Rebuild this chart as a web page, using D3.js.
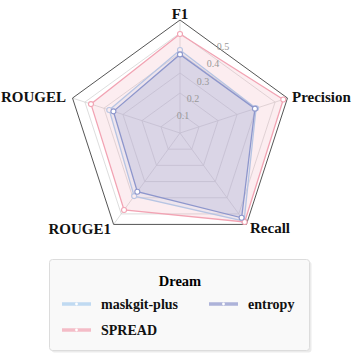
<!DOCTYPE html>
<html>
<head>
<meta charset="utf-8">
<script src="https://d3js.org/d3.v7.min.js"></script>
<style>
  body { margin: 0; background: #fff; }
</style>
</head>
<body>
<div id="chart"></div>
<script>
// axes of the radar, clockwise from top
var categories = ["F1", "Precision", "Recall", "ROUGE1", "ROUGEL"];
var maskgitPlus = [0.415, 0.40, 0.545, 0.39, 0.372];
var spread = [0.495, 0.543, 0.55, 0.476, 0.468];
var entropy = [0.393, 0.394, 0.524, 0.363, 0.35];
var ticks = [0.1, 0.2, 0.3, 0.4, 0.5];
var seriesNames = ["maskgit-plus", "SPREAD", "entropy"];
var legendTitle = "Dream";

var colors = {"maskgit-plus": "#a9cdef", "SPREAD": "#f2a3b3", "entropy": "#8d96cc"};
var series = [
  {name: "maskgit-plus", values: maskgitPlus},
  {name: "SPREAD", values: spread},
  {name: "entropy", values: entropy}
];

var width = 352, height = 356;
var cx = 180, cy = 133, R = 113;
var maxVal = 0.565;

var svg = d3.select("#chart").append("svg")
  .attr("width", width).attr("height", height)
  .attr("font-family", "Liberation Serif");

var g = svg.append("g").attr("transform", "translate(" + cx + "," + cy + ")");

var r = d3.scaleLinear().domain([0, maxVal]).range([0, R]);
var angle = d3.scaleBand().domain(categories).range([0, 2 * Math.PI]);

function pt(cat, v) {
  var a = angle(cat);
  return [r(v) * Math.sin(a), -r(v) * Math.cos(a)];
}

// rings
ticks.forEach(function(t) {
  g.append("polygon")
    .attr("points", categories.map(function(c) { return pt(c, t).join(","); }).join(" "))
    .attr("fill", "none").attr("stroke", "#d4d4d4").attr("stroke-width", 0.8);
});

// spokes
categories.forEach(function(c) {
  var p = pt(c, maxVal);
  g.append("line").attr("x1", 0).attr("y1", 0).attr("x2", p[0]).attr("y2", p[1])
    .attr("stroke", "#d4d4d4").attr("stroke-width", 0.8);
});

// outer frame
g.append("polygon")
  .attr("points", categories.map(function(c) { return pt(c, maxVal).join(","); }).join(" "))
  .attr("fill", "none").attr("stroke", "#555").attr("stroke-width", 1);

// series
var line = d3.line().curve(d3.curveLinearClosed);
series.forEach(function(s) {
  var pts = categories.map(function(c, i) { return pt(c, s.values[i]); });
  g.append("path").attr("d", line(pts))
    .attr("fill", colors[s.name]).attr("fill-opacity", 0.2)
    .attr("stroke", colors[s.name]).attr("stroke-width", 1.3);
  g.selectAll(null).data(pts).enter().append("circle")
    .attr("cx", function(d) { return d[0]; })
    .attr("cy", function(d) { return d[1]; })
    .attr("r", 2.5)
    .attr("fill", "#fff")
    .attr("stroke", colors[s.name]).attr("stroke-width", 1.1);
});

// tick labels along a 30 degree line
ticks.forEach(function(t) {
  var a = Math.PI / 6;
  g.append("text")
    .attr("x", r(t) * Math.sin(a) - 7)
    .attr("y", -r(t) * Math.cos(a))
    .attr("dy", "0.35em")
    .attr("text-anchor", "middle")
    .attr("font-size", 10)
    .attr("fill", "#999")
    .text(t);
});

// axis labels
var labelPos = {
  "F1": [0, -119, "middle"],
  "Precision": [112, -36, "start"],
  "Recall": [70, 95, "start"],
  "ROUGE1": [-69, 96, "end"],
  "ROUGEL": [-114, -36, "end"]
};
categories.forEach(function(c) {
  var p = labelPos[c];
  g.append("text")
    .attr("x", p[0]).attr("y", p[1])
    .attr("dy", "0.35em")
    .attr("text-anchor", p[2])
    .attr("font-size", 15)
    .attr("font-weight", "bold")
    .attr("fill", "#111")
    .text(c);
});

// legend
var lg = svg.append("g");
lg.append("rect")
  .attr("x", 51.5).attr("y", 261.5).attr("width", 260).attr("height", 91)
  .attr("rx", 3).attr("fill", "#ddd").attr("opacity", 0.6);
lg.append("rect")
  .attr("x", 49.5).attr("y", 259.5).attr("width", 260).attr("height", 91)
  .attr("rx", 3).attr("fill", "#f9f9f9").attr("stroke", "#dcdcdc");
lg.append("text").attr("x", 180).attr("y", 281).attr("dy", "0.35em")
  .attr("text-anchor", "middle").attr("font-size", 14.5).attr("font-weight", "bold")
  .text(legendTitle);

var legendSlots = {"maskgit-plus": [62, 304], "SPREAD": [62, 330], "entropy": [209, 304]};
seriesNames.forEach(function(n) {
  var s = legendSlots[n];
  lg.append("line").attr("x1", s[0]).attr("x2", s[0] + 29).attr("y1", s[1]).attr("y2", s[1])
    .attr("stroke", colors[n]).attr("stroke-width", 3.5).attr("opacity", 0.7);
  lg.append("circle").attr("cx", s[0] + 14.5).attr("cy", s[1]).attr("r", 1.4).attr("fill", "#fff");
  lg.append("text").attr("x", s[0] + 39).attr("y", s[1]).attr("dy", "0.35em")
    .attr("font-size", 14).attr("font-weight", "bold").attr("fill", "#111")
    .text(n);
});
</script>
</body>
</html>
